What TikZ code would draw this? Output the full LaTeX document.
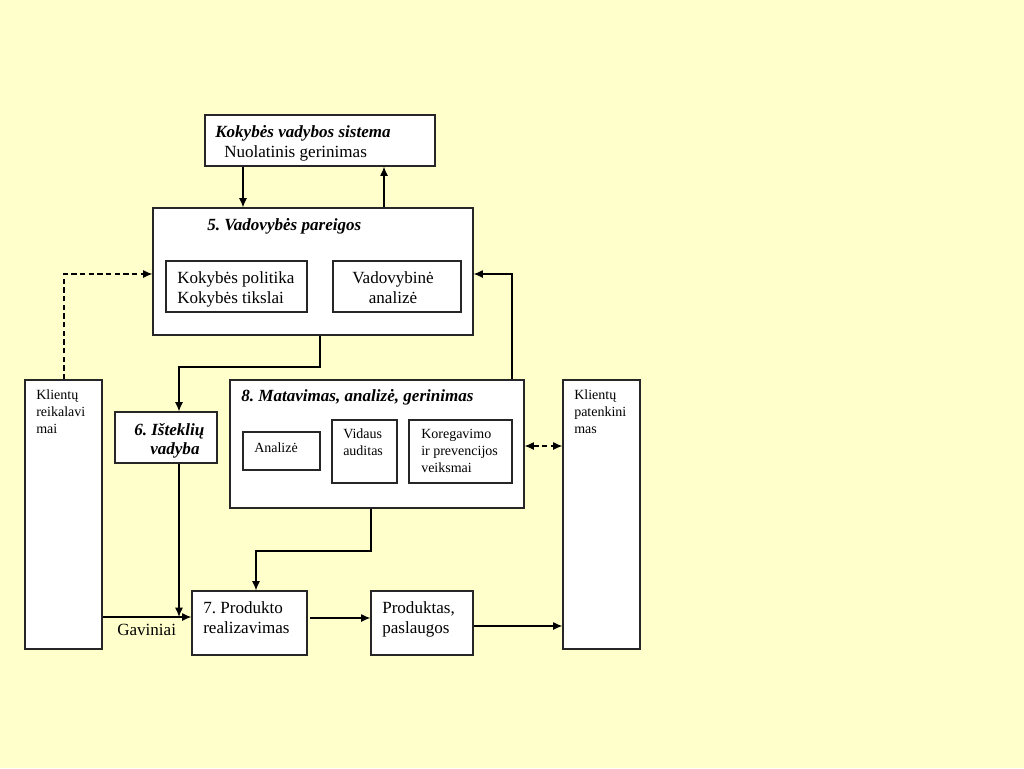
\documentclass[tikz,border=0pt]{standalone}
\usepackage{fontspec}
\setmainfont{Liberation Serif}
\frenchspacing
\usetikzlibrary{arrows.meta,fit}
\definecolor{fonas}{HTML}{FFFFCC}
\tikzset{
blokas/.style={draw=black!85, fill=white, inner sep=0pt, line width=0.9pt},
tekstas/.style={anchor=base west, inner sep=0pt, font=\fontsize{12.8}{15}\selectfont, align=left},
mazas/.style={anchor=base west, inner sep=0pt, font=\fontsize{10.5}{12.75}\selectfont, align=left},
rodykle/.style={line width=0.9pt, -{Latex[length=7pt,width=6pt]}},
punktyras/.style={rodykle, dash pattern=on 4pt off 2.5pt}
}
\begin{document}
\begin{tikzpicture}[x=0.75pt,y=-0.75pt]
\fill[fonas] (0,0) rectangle (1024,768); \useasboundingbox (0,0) rectangle (1024,768);
\node[blokas, fit={(205,115) (435,166)}] (kvs) {}; \node[blokas, fit={(153,208) (473,335)}] (vp) {};
\node[blokas, fit={(166,261) (307,312)}] (kp) {}; \node[blokas, fit={(333,261) (461,312)}] (va) {};
\node[blokas, fit={(25,380) (102,649)}] (kr) {}; \node[blokas, fit={(115,412) (217,463)}] (iv) {};
\node[blokas, fit={(230,380) (524,508)}] (mag) {}; \node[blokas, fit={(243,432) (320,470)}] (an) {};
\node[blokas, fit={(332,420) (397,483)}] (au) {}; \node[blokas, fit={(409,420) (512,483)}] (kpv) {};
\node[blokas, fit={(563,380) (640,649)}] (kpat) {}; \node[blokas, fit={(192,591) (307,655)}] (pr) {};
\node[blokas, fit={(371,591) (473,655)}] (ps) {};
\node[tekstas] at (215,137) {\textbf{\textit{Kokybės vadybos sistema}}}; \node[tekstas] at (224,157) {Nuolatinis gerinimas};
\node[tekstas] at (207,230) {\textbf{\textit{5. Vadovybės pareigos}}};
\node[tekstas] at (177,303) {Kokybės politika\\Kokybės tikslai}; \node[tekstas, align=center] at (352,303) {Vadovybinė\\analizė};
\node[mazas] at (36,433) {Klientų\\reikalavi\\mai}; \node[mazas] at (574,433) {Klientų\\patenkini\\mas};
\node[tekstas] at (134,435) {\textbf{\textit{6. Išteklių}}}; \node[tekstas] at (150,454) {\textbf{\textit{vadyba}}};
\node[tekstas] at (241,401) {\textbf{\textit{8. Matavimas, analizė, gerinimas}}};
\node[mazas] at (254,452) {Analizė}; \node[mazas] at (343,455) {Vidaus\\auditas}; \node[mazas] at (421,472) {Koregavimo\\ir prevencijos\\veiksmai};
\node[tekstas] at (203,633) {7. Produkto\\realizavimas}; \node[tekstas] at (382,633) {Produktas,\\paslaugos};
\node[tekstas] (gav) at (117,635) {Gaviniai};
\coordinate (sandura) at (179,617);
\draw[rodykle] (243,0 |- kvs.south) -- (243,0 |- vp.north);
\draw[rodykle] (384,0 |- vp.north) -- (384,0 |- kvs.south);
\draw[punktyras] (64,0 |- kr.north) |- (vp.west |- 0,274);
\draw[rodykle] (512,0 |- mag.north) |- (vp.east |- 0,274);
\draw[rodykle] (320,0 |- vp.south) -- (320,367) -| (179,0 |- iv.north);
\draw[rodykle] (179,0 |- iv.south) -- (sandura);
\draw[rodykle] (kr.east |- sandura) -- (pr.west |- sandura);
\draw[rodykle] (371,0 |- mag.south) -- (371,551) -| (256,0 |- pr.north);
\draw[rodykle] ([xshift=2pt]pr.east |- 0,618) -- (ps.west |- 0,618);
\draw[rodykle] (ps.east |- 0,626) -- (kpat.west |- 0,626);
\draw[punktyras, {Latex[length=7pt,width=6pt]}-{Latex[length=7pt,width=6pt]}] (mag.east |- 0,446) -- (kpat.west |- 0,446);
\end{tikzpicture}
\end{document}
